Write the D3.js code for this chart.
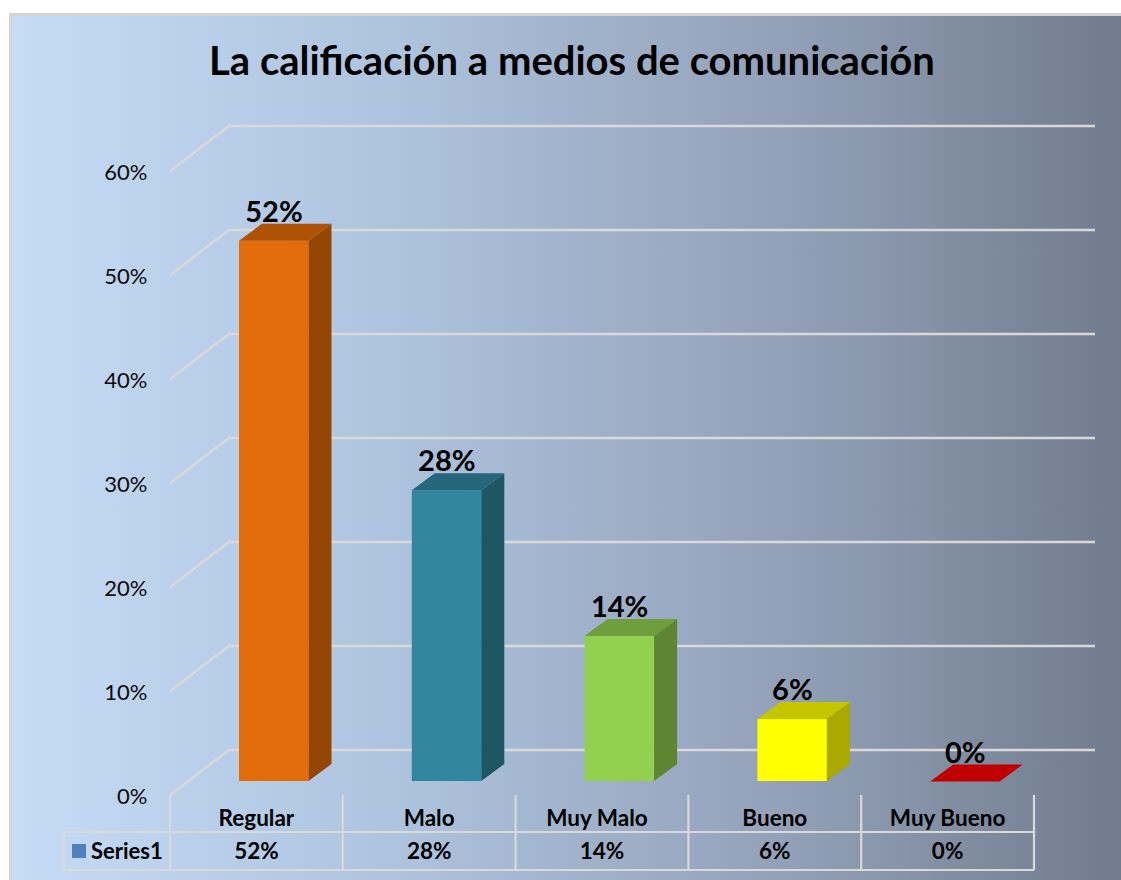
<!DOCTYPE html>
<html><head><meta charset="utf-8">
<script src="https://cdnjs.cloudflare.com/ajax/libs/d3/7.8.5/d3.min.js"></script>
<style>html,body{margin:0;padding:0;background:#fff;overflow:hidden}svg{display:block}text{font-family:Lato,"Open Sans",sans-serif}</style>
</head><body><div id="c"></div>
<script>
const categories=["Regular","Malo","Muy Malo","Bueno","Muy Bueno"];
const values=[52,28,14,6,0];
const ticks=[0,10,20,30,40,50,60];
const seriesName="Series1";
const titleText="La calificación a medios de comunicación";
const faceColors=["#E36C0A","#31859C","#92D050","#FFFF00","#C00000"];
const topColors=["#AE5205","#26667A","#6F9E3C","#C6C600","#C00000"];
const sideColors=["#944605","#1F5664","#5E8632","#A9A900","#8A0000"];

const W=1121,H=880;
const svg=d3.select("#c").append("svg").attr("width",W).attr("height",H);
const defs=svg.append("defs");
const g=defs.append("linearGradient").attr("id","bg");
[[0,"#C6DBF5"],[0.35,"#ADC2DC"],[0.7,"#919FB6"],[1,"#6E7A8A"]].forEach(s=>g.append("stop").attr("offset",s[0]).attr("stop-color",s[1]));
svg.append("rect").attr("x",10.5).attr("y",14.5).attr("width",W+10).attr("height",H).attr("fill","url(#bg)").attr("stroke","#D4D4D4").attr("stroke-width",3);

const x=d3.scaleBand().domain(categories).range([170,1034]);
const y=d3.scaleLinear().domain([0,60]).range([795,171]);
const grid="#D9D9D9";
const wallDx=59,wallDy=-45,rightEnd=1095;
const gridG=svg.append("g").attr("fill","none").attr("stroke",grid).attr("stroke-width",2.4);
ticks.forEach(t=>{
  gridG.append("path").attr("d",d3.line()([[170,y(t)],[170+wallDx,y(t)+wallDy],[rightEnd,y(t)+wallDy]]));
});
// y axis labels
svg.append("g").selectAll("text").data(ticks).join("text")
  .attr("x",147.5).attr("y",d=>y(d)+9).attr("text-anchor","end")
  .attr("font-size",22).attr("fill","#0a0a0a").text(d=>d+"%");

// bars
const barW=69.5,dx=23,dy=-17,floorOff=-14,barShift=69;
const bars=svg.append("g").selectAll("g").data(categories).join("g");
bars.each(function(c,i){
  const s=d3.select(this),v=values[i];
  const L=x(c)+barShift,R=L+barW;
  const B=y(0)+floorOff,T=y(v)+floorOff+0.5;
  const line=d3.line();
  if(v>0){
    s.append("rect").attr("x",L).attr("y",T).attr("width",barW).attr("height",B-T).attr("fill",faceColors[i]);
    s.append("path").attr("d",line([[R,T],[R+dx,T+dy],[R+dx,B+dy],[R,B]])+"Z").attr("fill",sideColors[i]);
  }
  s.append("path").attr("d",line([[L,T],[L+dx,T+dy],[R+dx,T+dy],[R,T]])+"Z").attr("fill",topColors[i]);
  s.append("text").attr("x",L+35).attr("y",T-19).attr("text-anchor","middle")
    .attr("font-size",29).attr("font-weight",700).attr("fill","#000").text(v+"%");
});

// data table
const tbl=svg.append("g").attr("stroke",grid).attr("stroke-width",2.2).attr("fill","none");
const yA=795,yB=832,yC=870,xL=64;
tbl.append("path").attr("d",`M${xL},${yB}H${x.range()[1]}M${xL},${yC}H${x.range()[1]}M${xL},${yB}V${yC}`);
categories.forEach(c=>tbl.append("path").attr("d",`M${x(c)},${yA}V${yC}`));
tbl.append("path").attr("d",`M${x.range()[1]},${yA}V${yC}`);
svg.append("rect").attr("x",72).attr("y",844).attr("width",14).attr("height",14).attr("fill","#4F81BD");
svg.append("text").attr("x",91).attr("y",859).attr("font-size",22).attr("font-weight",700).attr("fill","#000").text(seriesName);
const labels=svg.append("g").attr("font-weight",700).attr("font-size",22.5).attr("fill","#000").attr("text-anchor","middle");
categories.forEach((c,i)=>{
  const cx=x(c)+x.bandwidth()/2;
  labels.append("text").attr("x",c==="Muy Malo"?cx-5:cx).attr("y",826).text(c);
  labels.append("text").attr("x",cx).attr("y",859).text(values[i]+"%");
});
svg.append("text").attr("x",572).attr("y",75).attr("text-anchor","middle")
  .attr("font-size",40).attr("font-weight",700).attr("fill","#000").text(titleText);
</script></body></html>
